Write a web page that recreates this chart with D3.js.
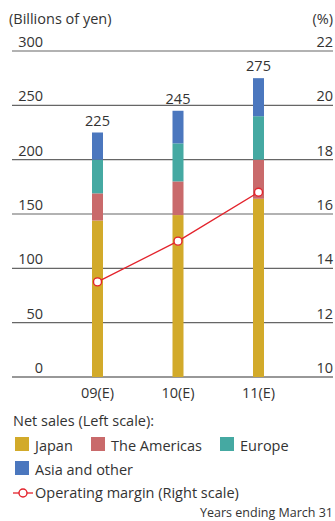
<!DOCTYPE html>
<html>
<head>
<meta charset="utf-8">
<script src="https://cdn.jsdelivr.net/npm/d3@7"></script>
<style>
  html, body { margin: 0; padding: 0; background: #fff; }
  svg { display: block; }
  text { font-family: "Open Sans", "Noto Sans", sans-serif; fill: #333; }
</style>
</head>
<body>
<svg id="chart" width="335" height="521"></svg>
<script>
// Fiscal years (forecast)
const years = ["09(E)", "10(E)", "11(E)"];
// Net sales by region, billions of yen
const japan = [144, 149, 164];
const americas = [25, 31, 36];
const europe = [31, 35, 40];
const asia = [25, 30, 35];
// Total net sales labels
const totals = [225, 245, 275];
// Operating margin, %
const margin = [13.5, 15.0, 16.8];
// Axis ticks
const leftTicks = [0, 50, 100, 150, 200, 250, 300];
const rightTicks = [10, 12, 14, 16, 18, 20, 22];

const regions = ["Japan", "The Americas", "Europe", "Asia and other"];
const regionColors = ["#D2AA2A", "#C96A6B", "#45A9A2", "#4B77BE"];

const FS = 14.5;
const svg = d3.select("#chart");

const x = d3.scalePoint().domain(years).range([97.5, 258.5]);
const yL = d3.scaleLinear().domain([0, 300]).range([377, 51]);
const yR = d3.scaleLinear().domain([10, 22]).range([377, 51]);
const barW = 11;

// Gridlines
svg.append("g").selectAll("line").data(leftTicks).join("line")
  .attr("x1", 12).attr("x2", 333)
  .attr("y1", d => yL(d)).attr("y2", d => yL(d))
  .attr("stroke", d => d === 0 ? "#333" : "#666")
  .attr("stroke-width", 1.2);

// Left axis labels
svg.append("g").selectAll("text").data(leftTicks).join("text")
  .attr("x", 43).attr("y", d => yL(d) - 4)
  .attr("text-anchor", "end").attr("font-size", FS)
  .text(d => d);

// Right axis labels
svg.append("g").selectAll("text").data(rightTicks).join("text")
  .attr("x", 333).attr("y", d => yR(d) - 4)
  .attr("text-anchor", "end").attr("font-size", FS)
  .text(d => d);

// Unit titles
svg.append("text").attr("x", 9).attr("y", 24).attr("font-size", FS).text("(Billions of yen)");
svg.append("text").attr("x", 333).attr("y", 24).attr("text-anchor", "end").attr("font-size", FS).text("(%)");

// Stacked bars
const rows = years.map((yr, i) => ({
  year: yr, Japan: japan[i], "The Americas": americas[i], Europe: europe[i], "Asia and other": asia[i]
}));
const stacked = d3.stack().keys(regions)(rows);
svg.append("g").selectAll("g").data(stacked).join("g")
  .attr("fill", (d, i) => regionColors[i])
  .selectAll("rect").data(d => d).join("rect")
  .attr("x", d => x(d.data.year) - barW / 2)
  .attr("width", barW)
  .attr("y", d => yL(d[1]))
  .attr("height", d => yL(d[0]) - yL(d[1]));

// Total labels
svg.append("g").selectAll("text").data(totals).join("text")
  .attr("x", (d, i) => x(years[i]))
  .attr("y", d => yL(d) - 7)
  .attr("text-anchor", "middle").attr("font-size", FS)
  .text(d => d);

// Operating margin line
const line = d3.line().x((d, i) => x(years[i])).y(d => yR(d));
svg.append("path").datum(margin)
  .attr("d", line).attr("fill", "none")
  .attr("stroke", "#E3232C").attr("stroke-width", 1.3);
svg.append("g").selectAll("circle").data(margin).join("circle")
  .attr("cx", (d, i) => x(years[i])).attr("cy", d => yR(d)).attr("r", 4)
  .attr("fill", "#fff").attr("stroke", "#E3232C").attr("stroke-width", 1.4);

// X axis labels
svg.append("g").selectAll("text").data(years).join("text")
  .attr("x", d => x(d)).attr("y", 398)
  .attr("text-anchor", "middle").attr("font-size", FS)
  .text(d => d);

// Legend
svg.append("text").attr("x", 13).attr("y", 426).attr("font-size", FS).text("Net sales (Left scale):");
const legendPos = [[15, 451], [91, 451], [220, 451], [15, 475]];
const lg = svg.append("g").selectAll("g").data(regions).join("g")
  .attr("transform", (d, i) => `translate(${legendPos[i][0]},${legendPos[i][1]})`);
lg.append("rect").attr("x", 0).attr("y", -14).attr("width", 14).attr("height", 14)
  .attr("fill", (d, i) => regionColors[i]);
lg.append("text").attr("x", 20).attr("y", 0).attr("font-size", FS).text(d => d);

const ml = svg.append("g").attr("transform", "translate(0,493)");
ml.append("line").attr("x1", 13).attr("x2", 33).attr("y1", 0).attr("y2", 0)
  .attr("stroke", "#E3232C").attr("stroke-width", 1.3);
ml.append("circle").attr("cx", 23).attr("cy", 0).attr("r", 4)
  .attr("fill", "#fff").attr("stroke", "#E3232C").attr("stroke-width", 1.4);
ml.append("text").attr("x", 35).attr("y", 5).attr("font-size", FS).text("Operating margin (Right scale)");

svg.append("text").attr("x", 333).attr("y", 517).attr("text-anchor", "end")
  .attr("font-size", 12.5).text("Years ending March 31");
</script>
</body>
</html>
